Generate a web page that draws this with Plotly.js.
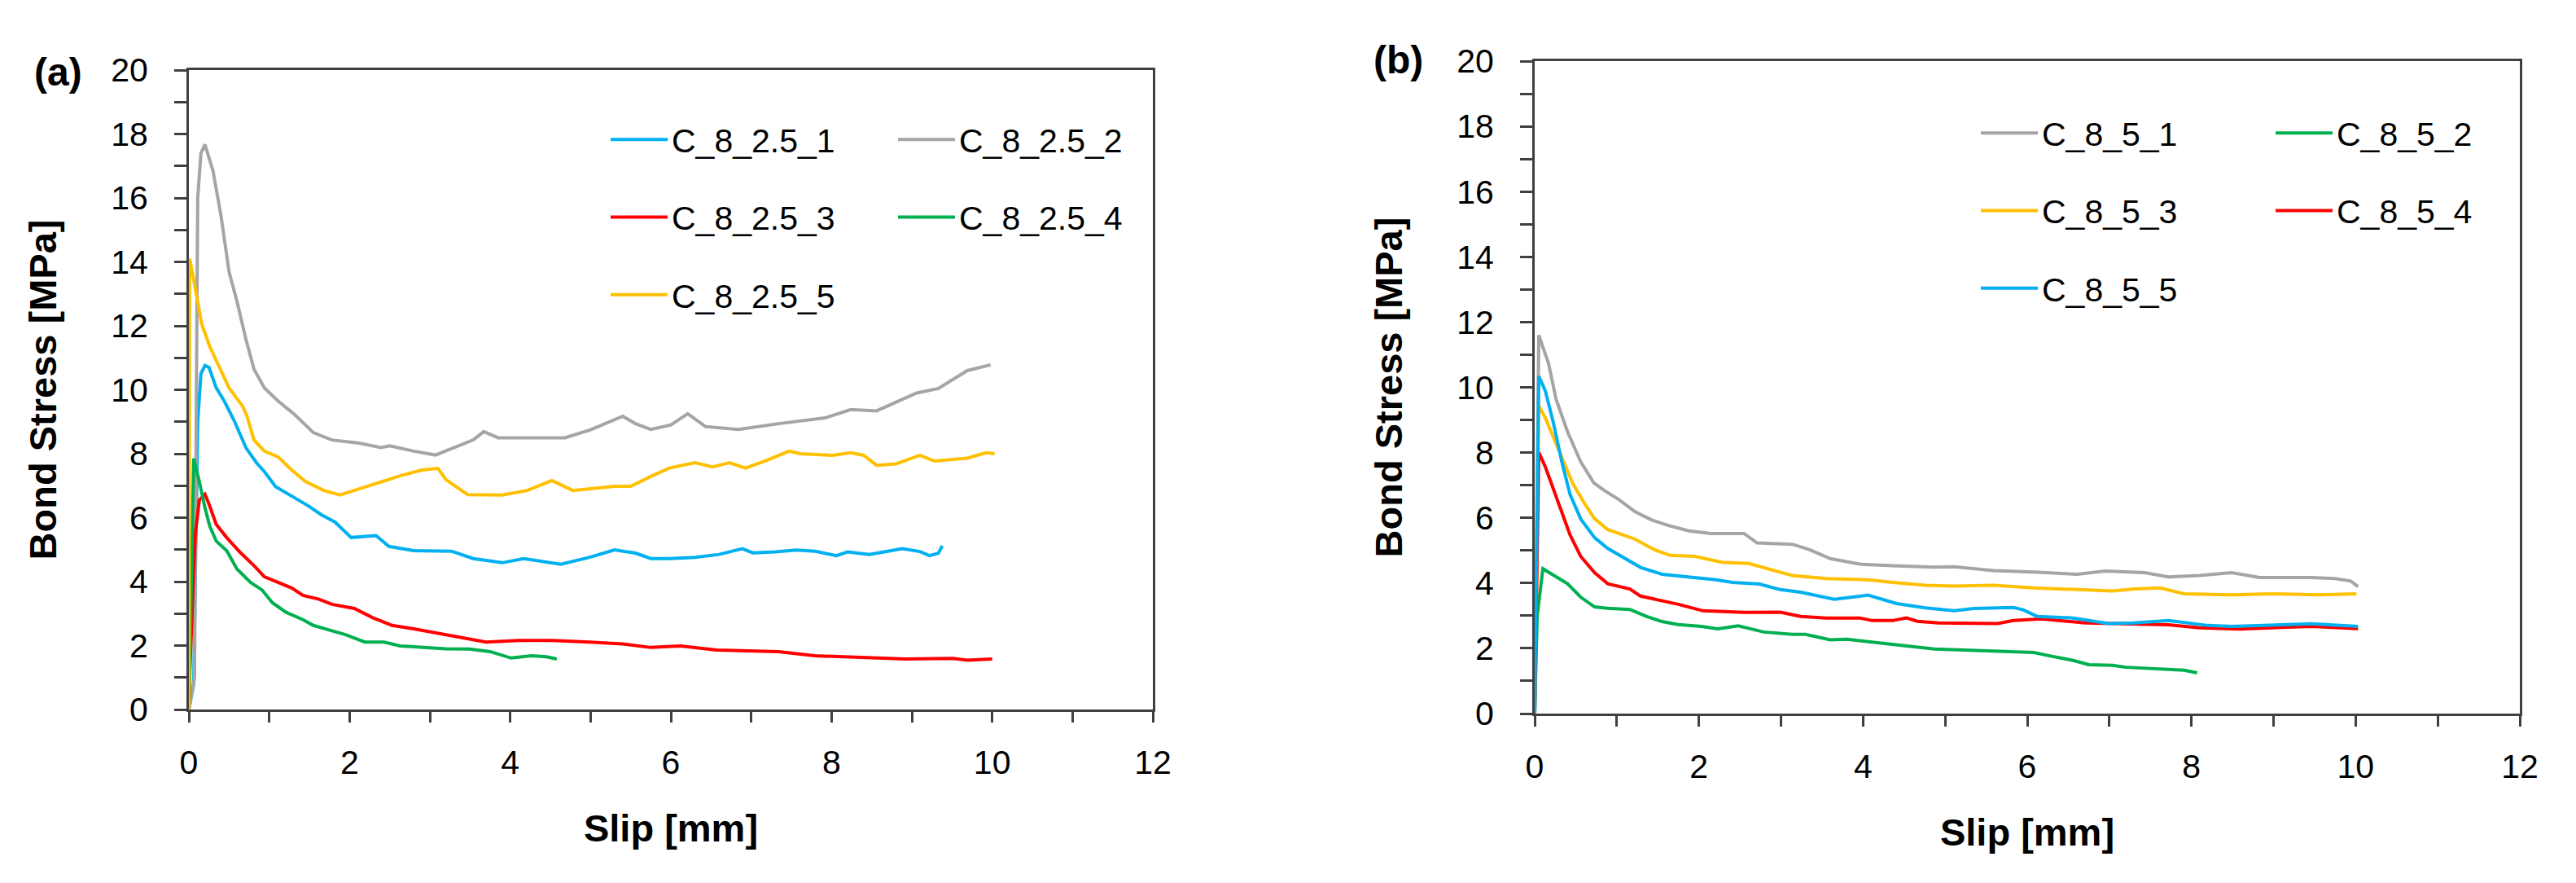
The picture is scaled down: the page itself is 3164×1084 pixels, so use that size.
<!DOCTYPE html>
<html>
<head>
<meta charset="utf-8">
<script src="https://cdn.plot.ly/plotly-3.0.1.min.js"></script>
<style>html,body{margin:0;padding:0;background:#fff;}#chart{width:3164px;height:1084px;}</style>
</head>
<body>
<div id="chart"></div>
<script>
// ---------- Data ----------
// Panel (a): C_8_2.5 series  — slip [mm] / bond stress [MPa]
const a1_x = [0, 0.06, 0.11, 0.15, 0.2, 0.25, 0.34, 0.44, 0.57, 0.71, 0.84, 0.94, 1.08, 1.28, 1.48, 1.65, 1.82, 2.02, 2.18, 2.33, 2.49, 2.8, 3.27, 3.54, 3.9, 4.17, 4.63, 4.99, 5.3, 5.56, 5.75, 5.98, 6.3, 6.6, 6.89, 7.02, 7.3, 7.56, 7.8, 8.06, 8.2, 8.47, 8.7, 8.88, 9.1, 9.22, 9.33, 9.38];
const a1_y = [0, 0.8, 9.0, 10.5, 10.76, 10.7, 10.06, 9.65, 9.0, 8.19, 7.72, 7.44, 6.97, 6.68, 6.38, 6.09, 5.86, 5.38, 5.42, 5.44, 5.1, 4.97, 4.95, 4.72, 4.59, 4.72, 4.54, 4.76, 4.99, 4.89, 4.72, 4.72, 4.76, 4.85, 5.03, 4.9, 4.93, 4.99, 4.95, 4.81, 4.93, 4.85, 4.95, 5.03, 4.94, 4.81, 4.89, 5.12];

const a2_x = [0, 0.07, 0.11, 0.15, 0.2, 0.3, 0.4, 0.5, 0.6, 0.71, 0.81, 0.94, 1.11, 1.31, 1.55, 1.78, 2.12, 2.39, 2.5, 2.8, 3.07, 3.3, 3.54, 3.67, 3.85, 4.27, 4.68, 5.0, 5.4, 5.56, 5.75, 6.0, 6.21, 6.43, 6.84, 7.34, 7.92, 8.24, 8.56, 9.06, 9.33, 9.69, 9.98];
const a2_y = [0, 1.0, 16.0, 17.4, 17.67, 16.85, 15.44, 13.69, 12.75, 11.58, 10.65, 10.06, 9.65, 9.24, 8.66, 8.43, 8.33, 8.19, 8.25, 8.08, 7.96, 8.19, 8.43, 8.69, 8.5, 8.5, 8.5, 8.75, 9.17, 8.94, 8.76, 8.9, 9.25, 8.85, 8.76, 8.94, 9.12, 9.38, 9.34, 9.9, 10.04, 10.6, 10.78];

const a3_x = [0, 0.01, 0.08, 0.13, 0.2, 0.25, 0.34, 0.47, 0.64, 0.81, 0.94, 1.11, 1.28, 1.42, 1.62, 1.78, 2.06, 2.29, 2.53, 2.8, 3.07, 3.3, 3.58, 3.7, 4.11, 4.52, 4.99, 5.4, 5.75, 6.12, 6.57, 7.34, 7.79, 8.38, 8.92, 9.51, 9.69, 10.0];
const a3_y = [0, 1.1, 5.5, 6.55, 6.73, 6.43, 5.79, 5.38, 4.91, 4.5, 4.15, 3.97, 3.8, 3.57, 3.45, 3.29, 3.16, 2.87, 2.63, 2.52, 2.4, 2.28, 2.16, 2.11, 2.16, 2.16, 2.11, 2.05, 1.94, 1.99, 1.86, 1.81, 1.68, 1.63, 1.58, 1.6, 1.54, 1.58];

const a4_x = [0, 0.06, 0.13, 0.2, 0.26, 0.34, 0.47, 0.6, 0.77, 0.91, 1.04, 1.21, 1.42, 1.55, 1.78, 1.95, 2.19, 2.43, 2.63, 2.97, 3.2, 3.49, 3.75, 4.01, 4.27, 4.45, 4.58];
const a4_y = [0, 7.85, 7.13, 6.31, 5.73, 5.27, 4.97, 4.39, 3.97, 3.74, 3.34, 3.04, 2.81, 2.63, 2.46, 2.34, 2.11, 2.11, 1.99, 1.94, 1.9, 1.89, 1.81, 1.61, 1.68, 1.65, 1.58];

const a5_x = [0, 0.01, 0.06, 0.16, 0.26, 0.37, 0.5, 0.67, 0.72, 0.81, 0.94, 1.11, 1.28, 1.45, 1.68, 1.88, 2.12, 2.36, 2.63, 2.9, 3.1, 3.2, 3.47, 3.9, 4.21, 4.52, 4.78, 5.3, 5.5, 5.75, 5.98, 6.3, 6.52, 6.73, 6.93, 7.2, 7.47, 7.61, 8.01, 8.24, 8.4, 8.56, 8.8, 9.1, 9.28, 9.69, 9.92, 10.03];
const a5_y = [0, 14.1, 13.45, 12.05, 11.35, 10.76, 10.06, 9.48, 9.2, 8.43, 8.08, 7.9, 7.49, 7.13, 6.85, 6.71, 6.9, 7.08, 7.31, 7.49, 7.54, 7.19, 6.72, 6.71, 6.85, 7.16, 6.85, 6.98, 6.98, 7.29, 7.55, 7.72, 7.59, 7.72, 7.55, 7.8, 8.08, 8.0, 7.95, 8.03, 7.95, 7.64, 7.68, 7.95, 7.77, 7.86, 8.03, 8.0];

// Panel (b): C_8_5 series
const b1_x = [0, 0.05, 0.17, 0.26, 0.4, 0.56, 0.72, 0.86, 1.02, 1.22, 1.42, 1.62, 1.88, 2.15, 2.55, 2.71, 3.14, 3.35, 3.6, 3.96, 4.36, 4.87, 5.11, 5.59, 6.08, 6.61, 6.95, 7.43, 7.72, 8.1, 8.49, 8.83, 9.46, 9.75, 9.94, 10.03];
const b1_y = [0, 11.6, 10.72, 9.64, 8.64, 7.72, 7.07, 6.82, 6.57, 6.19, 5.94, 5.77, 5.6, 5.52, 5.52, 5.23, 5.19, 5.02, 4.75, 4.58, 4.53, 4.49, 4.5, 4.38, 4.34, 4.27, 4.37, 4.32, 4.19, 4.23, 4.32, 4.17, 4.17, 4.14, 4.06, 3.89];

const b2_x = [0, 0.03, 0.1, 0.23, 0.4, 0.56, 0.73, 0.89, 1.16, 1.36, 1.55, 1.75, 2.03, 2.23, 2.48, 2.79, 3.14, 3.3, 3.6, 3.8, 4.06, 4.26, 4.51, 4.87, 5.11, 5.59, 6.08, 6.27, 6.56, 6.75, 7.04, 7.2, 7.53, 7.91, 8.07];
const b2_y = [0, 2.98, 4.44, 4.23, 3.98, 3.57, 3.27, 3.23, 3.19, 2.98, 2.82, 2.73, 2.67, 2.6, 2.69, 2.5, 2.43, 2.43, 2.26, 2.28, 2.2, 2.15, 2.08, 1.98, 1.96, 1.91, 1.87, 1.77, 1.63, 1.5, 1.48, 1.42, 1.37, 1.33, 1.25];

const b3_x = [0, 0.05, 0.13, 0.23, 0.33, 0.46, 0.6, 0.73, 0.89, 1.06, 1.22, 1.46, 1.65, 1.95, 2.28, 2.61, 2.89, 3.14, 3.55, 4.06, 4.36, 4.76, 5.11, 5.59, 6.08, 6.56, 7.04, 7.3, 7.62, 7.91, 8.49, 8.98, 9.55, 10.01];
const b3_y = [0, 9.44, 9.06, 8.47, 7.89, 7.07, 6.47, 5.97, 5.64, 5.48, 5.35, 5.02, 4.85, 4.82, 4.64, 4.6, 4.4, 4.23, 4.14, 4.1, 4.02, 3.93, 3.91, 3.93, 3.85, 3.8, 3.76, 3.82, 3.85, 3.67, 3.64, 3.67, 3.64, 3.67];

const b4_x = [0, 0.05, 0.13, 0.23, 0.33, 0.43, 0.56, 0.73, 0.89, 1.16, 1.29, 1.55, 1.75, 2.05, 2.55, 2.99, 3.24, 3.55, 3.96, 4.11, 4.36, 4.53, 4.66, 4.92, 5.11, 5.64, 5.83, 6.17, 6.71, 7.28, 7.72, 8.1, 8.59, 8.98, 9.46, 10.03];
const b4_y = [0, 8.01, 7.56, 6.89, 6.22, 5.48, 4.82, 4.32, 3.98, 3.82, 3.6, 3.45, 3.35, 3.15, 3.1, 3.11, 2.98, 2.93, 2.93, 2.85, 2.85, 2.93, 2.83, 2.78, 2.78, 2.76, 2.85, 2.9, 2.78, 2.76, 2.72, 2.63, 2.59, 2.63, 2.67, 2.6];

const b5_x = [0, 0.05, 0.13, 0.23, 0.33, 0.43, 0.56, 0.73, 0.89, 1.06, 1.29, 1.55, 1.88, 2.21, 2.41, 2.74, 2.99, 3.24, 3.65, 4.06, 4.41, 4.76, 5.11, 5.35, 5.83, 5.95, 6.12, 6.56, 6.99, 7.3, 7.72, 8.2, 8.49, 8.98, 9.46, 10.03];
const b5_y = [0, 10.34, 9.89, 8.89, 7.72, 6.72, 5.97, 5.39, 5.06, 4.82, 4.48, 4.27, 4.19, 4.1, 4.02, 3.97, 3.8, 3.72, 3.5, 3.63, 3.37, 3.24, 3.15, 3.22, 3.25, 3.18, 2.98, 2.93, 2.76, 2.78, 2.85, 2.7, 2.67, 2.72, 2.75, 2.67];

const namesA = ['C_8_2.5_1', 'C_8_2.5_2', 'C_8_2.5_3', 'C_8_2.5_4', 'C_8_2.5_5'];
const namesB = ['C_8_5_1', 'C_8_5_2', 'C_8_5_3', 'C_8_5_4', 'C_8_5_5'];
const colorsA = ['#00B0F0', '#A5A5A5', '#FF0000', '#00B050', '#FFC000'];
const colorsB = ['#A5A5A5', '#00B050', '#FFC000', '#FF0000', '#00B0F0'];
const xTitle = 'Slip [mm]';
const yTitle = 'Bond Stress [MPa]';
const panelLabels = ['(a)', '(b)'];

// ---------- Layout helpers ----------
const W = 3164, H = 1084;
const M = {l: 110, r: 30, t: 40, b: 40};
const PW = W - M.l - M.r, PH = H - M.t - M.b;
const px = v => (v - M.l) / PW;          // pixel x -> paper x
const py = v => (H - M.b - v) / PH;      // pixel y -> paper y

const FONT = '"Liberation Sans", Arial, sans-serif';
const AX = '#404040';

const seriesA = [[a1_x, a1_y], [a2_x, a2_y], [a3_x, a3_y], [a4_x, a4_y], [a5_x, a5_y]];
const seriesB = [[b1_x, b1_y], [b2_x, b2_y], [b3_x, b3_y], [b4_x, b4_y], [b5_x, b5_y]];

const traces = [];
seriesA.forEach((s, i) => {
  traces.push({
    x: s[0], y: s[1], name: namesA[i], type: 'scatter', mode: 'lines',
    line: {color: colorsA[i], width: 4},
    xaxis: 'x', yaxis: 'y',
    legend: (i % 2 === 0) ? 'legend' : 'legend2',
    legendgroup: 'a' + i
  });
});
seriesB.forEach((s, i) => {
  traces.push({
    x: s[0], y: s[1], name: namesB[i], type: 'scatter', mode: 'lines',
    line: {color: colorsB[i], width: 4},
    xaxis: 'x2', yaxis: 'y2',
    legend: (i % 2 === 0) ? 'legend3' : 'legend4',
    legendgroup: 'b' + i
  });
});

function xAxis(domain, anchor) {
  return {
    domain: domain, anchor: anchor, range: [0, 12], tick0: 0, dtick: 2,
    ticks: 'outside', ticklen: 13, tickwidth: 3, tickcolor: AX,
    showline: true, linecolor: AX, linewidth: 3, mirror: true,
    showgrid: false, zeroline: false, fixedrange: true,
    tickfont: {family: FONT, size: 41, color: '#000'},
    ticklabelstandoff: 14,
    minor: {dtick: 1, tick0: 0, ticks: 'outside', ticklen: 13, tickwidth: 3, tickcolor: AX, showgrid: false},
    title: {text: xTitle, font: {family: FONT, size: 47, color: '#000', weight: 'bold'}, standoff: 42}
  };
}
function yAxis(domain, anchor) {
  return {
    domain: domain, anchor: anchor, range: [0, 20], tick0: 0, dtick: 2,
    ticks: 'outside', ticklen: 15, tickwidth: 3, tickcolor: AX,
    showline: true, linecolor: AX, linewidth: 3, mirror: true,
    showgrid: false, zeroline: false, fixedrange: true,
    tickfont: {family: FONT, size: 41, color: '#000'},
    ticklabelstandoff: 24,
    minor: {dtick: 1, tick0: 0, ticks: 'outside', ticklen: 15, tickwidth: 3, tickcolor: AX, showgrid: false},
    title: {text: yTitle, font: {family: FONT, size: 47, color: '#000', weight: 'bold'}, standoff: 52}
  };
}
function legendAt(xPix, yPix) {
  return {
    x: px(xPix), y: py(yPix), xanchor: 'left', yanchor: 'top',
    bgcolor: 'rgba(0,0,0,0)', borderwidth: 0,
    font: {family: FONT, size: 41, color: '#000'},
    itemwidth: 70, tracegroupgap: 39, traceorder: 'grouped'
  };
}

const layout = {
  width: W, height: H, margin: M,
  paper_bgcolor: '#fff', plot_bgcolor: '#fff',
  showlegend: true,
  xaxis: xAxis([px(232), px(1416)], 'y'),
  yaxis: yAxis([py(871), py(86)], 'x'),
  xaxis2: xAxis([px(1885), px(3095)], 'y2'),
  yaxis2: yAxis([py(876), py(75)], 'x2'),
  legend: legendAt(745, 138),
  legend2: legendAt(1098, 138),
  legend3: legendAt(2428, 130),
  legend4: legendAt(2790, 130),
  annotations: [
    {text: panelLabels[0], xref: 'paper', yref: 'paper', x: px(71), y: py(89), xanchor: 'center', yanchor: 'middle', showarrow: false, font: {family: FONT, size: 48, color: '#000', weight: 'bold'}},
    {text: panelLabels[1], xref: 'paper', yref: 'paper', x: px(1717), y: py(74), xanchor: 'center', yanchor: 'middle', showarrow: false, font: {family: FONT, size: 48, color: '#000', weight: 'bold'}}
  ]
};

Plotly.newPlot('chart', traces, layout, {displayModeBar: false, staticPlot: true});
</script>
</body>
</html>
